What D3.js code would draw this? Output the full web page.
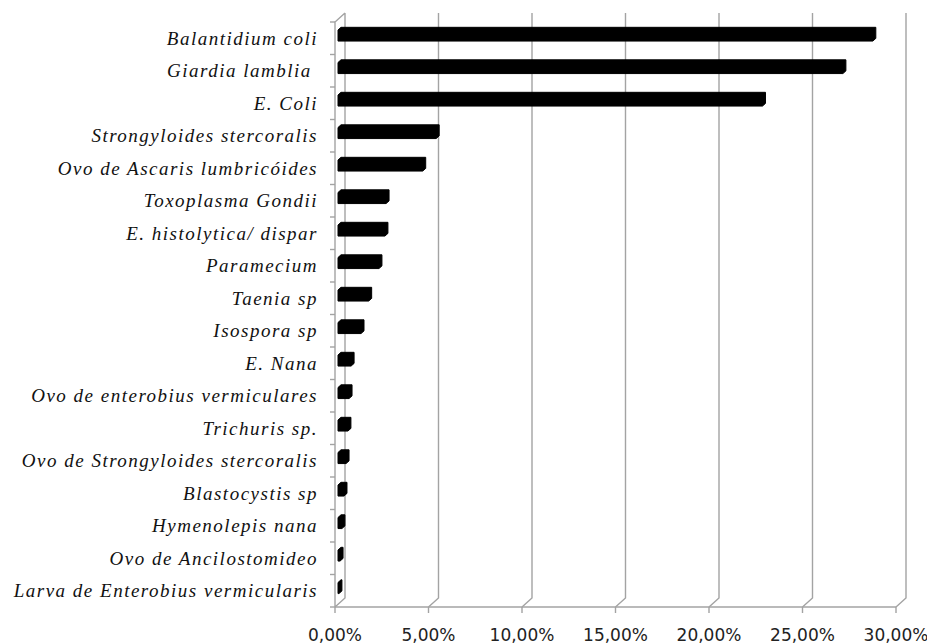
<!DOCTYPE html>
<html>
<head>
<meta charset="utf-8">
<script src="https://cdn.jsdelivr.net/npm/d3@7"></script>
<style>
  body { margin: 0; background: #fff; }
  .grid { fill: none; stroke: #a3a3a3; stroke-width: 1.4; }
  .cat { font-family: "Liberation Serif", serif; font-style: italic; font-size: 19px; letter-spacing: 1.5px; fill: #111; }
  .tick { font-family: "DejaVu Sans", sans-serif; font-size: 17px; fill: #222; }
  .bar { fill: #000; stroke: #000; stroke-width: 1; stroke-linejoin: round; }
</style>
</head>
<body>
<script>
// chart data
var categories = [
  "Balantidium coli", "Giardia lamblia ", "E. Coli", "Strongyloides stercoralis",
  "Ovo de Ascaris lumbricóides", "Toxoplasma Gondii", "E. histolytica/ dispar",
  "Paramecium", "Taenia sp", "Isospora sp", "E. Nana",
  "Ovo de enterobius vermiculares", "Trichuris sp.", "Ovo de Strongyloides stercoralis",
  "Blastocystis sp", "Hymenolepis nana", "Ovo de Ancilostomideo",
  "Larva de Enterobius vermicularis"
];
var values = [
  0.286, 0.270, 0.227, 0.0525, 0.0453, 0.0257, 0.0251, 0.0219, 0.0164,
  0.0123, 0.0070, 0.0059, 0.0053, 0.0043, 0.0032, 0.0021, 0.0011, 0.0005
];
var tickValues = [0, 0.05, 0.10, 0.15, 0.20, 0.25, 0.30];

var width = 927,
    height = 644;

// 3D depth offset of the chart walls
var DX = 10, DY = -9;
var plotTop = 22, plotFloor = 607;

var x = d3.scaleLinear().domain([0, 0.30]).range([335, 896]);
var yStep = d3.scaleBand().domain(categories).range([plotTop, plotFloor]);
var y = d3.scaleBand().domain(categories).range([plotTop, plotFloor])
    .paddingInner(0.66).paddingOuter(0.33);

var pt = d3.formatLocale({ decimal: ",", thousands: ".", grouping: [3], currency: ["", ""] })
    .format(".2%");

var svg = d3.select("body")
    .append("svg")
    .attr("width", width)
    .attr("height", height);

// left wall
svg.append("path")
    .attr("class", "grid")
    .attr("d", "M" + x(0) + "," + plotFloor + "V" + plotTop + "L" + (x(0) + DX) + "," + (plotTop + DY) +
        "M" + x(0) + "," + plotFloor + "L" + (x(0) + DX) + "," + (plotFloor + DY) + "V" + (plotTop + DY));

// floor front edge
svg.append("path")
    .attr("class", "grid")
    .attr("d", "M" + x(0) + "," + plotFloor + "H" + x(0.30));

// gridlines bending onto the back wall
svg.selectAll(".gl")
    .data(tickValues.slice(1))
    .enter()
    .append("path")
    .attr("class", "grid")
    .attr("d", function (t) {
        return "M" + x(t) + "," + plotFloor + "L" + (x(t) + DX) + "," + (plotFloor + DY) + "V" + (plotTop + DY);
    });

// bottom tick marks
svg.selectAll(".xt")
    .data(tickValues)
    .enter()
    .append("path")
    .attr("class", "grid")
    .attr("d", function (t) { return "M" + x(t) + "," + plotFloor + "V" + (plotFloor + 6); });

// left tick marks at category boundaries
var bounds = categories.map(function (c) { return yStep(c); }).concat([plotFloor]);
svg.selectAll(".yt")
    .data(bounds)
    .enter()
    .append("path")
    .attr("class", "grid")
    .attr("d", function (b) { return "M" + (x(0) - 5) + "," + b + "H" + x(0); });

// bars as small prisms
var zf = 0.3, zb = 0.6;
svg.selectAll(".bar")
    .data(values)
    .enter()
    .append("path")
    .attr("class", "bar")
    .attr("d", function (v, i) {
        var c = categories[i];
        var x0 = x(0), x1 = x(v), yT = y(c), yB = yT + y.bandwidth();
        var fx = DX * zf, fy = DY * zf, bx = DX * zb, by = DY * zb;
        return "M" + (x0 + fx) + "," + (yB + fy) +
            "L" + (x0 + fx) + "," + (yT + fy) +
            "L" + (x0 + bx) + "," + (yT + by) +
            "L" + (x1 + bx) + "," + (yT + by) +
            "L" + (x1 + bx) + "," + (yB + by) +
            "L" + (x1 + fx) + "," + (yB + fy) + "Z";
    });

// category labels
svg.selectAll(".cat")
    .data(categories)
    .enter()
    .append("text")
    .attr("class", "cat")
    .attr("x", 318)
    .attr("y", function (c) { return yStep(c) + yStep.bandwidth() / 2; })
    .attr("dy", ".35em")
    .attr("text-anchor", "end")
    .style("white-space", "pre")
    .text(function (c) { return c; });

// value labels
svg.selectAll(".tick")
    .data(tickValues)
    .enter()
    .append("text")
    .attr("class", "tick")
    .attr("x", function (t) { return x(t); })
    .attr("y", 641)
    .attr("text-anchor", "middle")
    .text(function (t) { return pt(t); });
</script>
</body>
</html>
